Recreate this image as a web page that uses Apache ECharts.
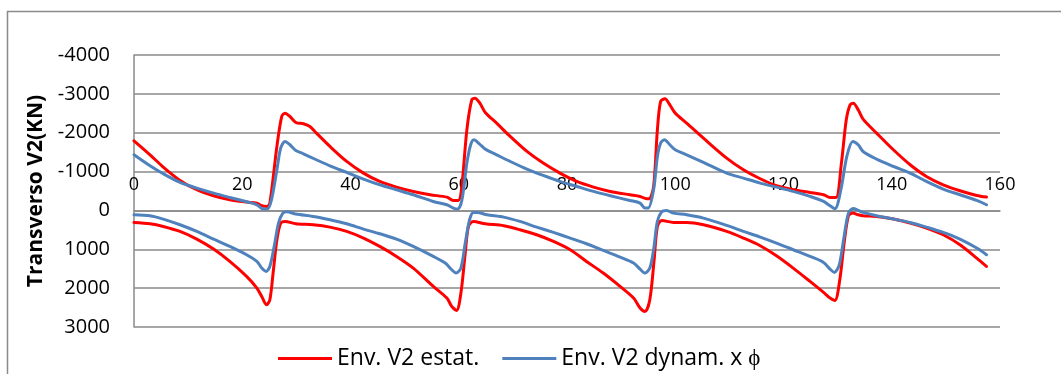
<!DOCTYPE html>
<html>
<head>
<meta charset="utf-8">
<script src="https://cdn.jsdelivr.net/npm/echarts@6/dist/echarts.min.js"></script>
<style>
html,body{margin:0;padding:0;background:#fff;}
#chart{width:1061px;height:374px;}
</style>
</head>
<body>
<div id="chart"></div>
<script>
// ---- data ----
const xTicks = [0, 20, 40, 60, 80, 100, 120, 140, 160];
const yTicks = [-4000, -3000, -2000, -1000, 0, 1000, 2000, 3000];
const seriesNames = ['Env. V2 estat.', 'Env. V2 dynam. x ϕ'];

const redUpperX = [0,2.96,5.4,8.5,11.6,14.7,17.7,20.8,22.7,23.6,24.6,25.1,26.4,27.3,27.9,28.8,29.9,31.3,32.5,33.7,36.2,39.3,42.4,45.4,48.5,51.6,54.7,57.8,59.0,59.9,60.5,61.5,62.4,63.0,63.9,64.9,67.0,69.5,72.6,75.6,78.7,81.8,84.9,88.0,91.6,93.5,94.7,95.2,96.0,96.7,97.3,98.1,99.0,100.0,102.1,105.2,109.5,112.6,115.7,118.7,121.8,124.9,127.4,128.6,129.7,130.7,131.6,132.3,132.9,133.8,134.7,137.2,140.3,143.4,146.4,149.5,152.6,155.7,157.5];
const redUpperY = [-1792,-1432,-1115,-772,-532,-377,-274,-214,-189,-120,-103,-189,-1647,-2418,-2504,-2418,-2264,-2230,-2161,-1990,-1647,-1261,-960,-746,-600,-489,-403,-343,-257,-257,-532,-2075,-2847,-2890,-2761,-2521,-2247,-1904,-1518,-1218,-960,-746,-600,-489,-403,-360,-300,-300,-617,-2075,-2804,-2873,-2718,-2504,-2247,-1861,-1346,-1046,-815,-635,-532,-463,-403,-334,-334,-1218,-2333,-2718,-2761,-2590,-2350,-1990,-1561,-1175,-875,-660,-506,-386,-343];

const blueUpperX = [0,2.96,5.4,8.5,11.6,14.7,17.7,20.8,22.7,23.9,24.6,25.4,26.4,27.1,27.9,28.8,29.9,31.3,33.7,36.2,39.3,42.4,45.4,48.5,51.6,55.3,57.8,59.0,59.8,60.6,61.5,62.2,62.8,63.8,64.9,67.0,69.5,72.6,75.6,78.7,81.8,84.9,88.0,91.6,93.5,94.4,95.0,96.0,96.7,97.3,98.0,99.0,100.0,102.1,105.2,109.5,112.6,115.7,118.7,121.8,124.9,127.4,128.6,129.5,130.6,131.7,132.8,133.8,134.7,137.2,140.3,143.4,146.4,149.5,152.6,155.7,157.5];
const blueUpperY = [-1432,-1149,-943,-720,-575,-446,-334,-223,-146,-34,-34,-274,-1046,-1604,-1775,-1690,-1544,-1458,-1304,-1149,-978,-806,-660,-532,-403,-230,-146,-60,-34,-274,-1218,-1690,-1818,-1715,-1578,-1432,-1261,-1063,-900,-746,-617,-489,-377,-257,-189,-60,-60,-532,-1389,-1732,-1818,-1690,-1561,-1432,-1235,-960,-832,-703,-600,-489,-360,-232,-120,-43,-532,-1389,-1775,-1690,-1518,-1321,-1132,-960,-746,-549,-403,-257,-146];

const redLowerX = [0,2.96,5.4,8.5,11.6,14.7,17.7,20.8,22.7,23.6,24.5,25.1,25.7,26.4,27.1,27.9,29.9,33.1,36.2,39.3,42.4,45.4,48.5,51.6,55.3,57.8,58.7,59.6,60.4,61.2,61.8,62.7,64.9,68.3,71.3,74.4,77.5,80.6,83.6,86.7,89.8,92.3,93.5,94.4,95.3,96.1,96.7,97.5,99.7,102.1,105.2,109.5,112.6,115.7,118.7,121.8,124.9,127.4,128.6,129.5,130.4,131.2,132.0,132.8,133.8,134.7,137.2,140.3,143.4,146.4,149.5,152.6,155.7,157.5];
const redLowerY = [309,343,412,540,738,995,1312,1698,1998,2213,2427,2298,1612,755,326,283,343,369,429,540,712,926,1183,1484,1955,2255,2470,2573,2127,1098,412,283,343,394,497,626,798,1012,1312,1612,1955,2255,2513,2599,2298,1269,412,257,309,309,369,540,712,909,1166,1484,1827,2110,2255,2315,1784,840,137,69,111,137,154,223,326,455,626,883,1226,1441];

const blueLowerX = [0,2.96,5.4,8.5,11.6,14.7,17.7,20.8,22.7,23.6,24.4,25.1,25.9,26.7,27.5,28.2,29.9,33.1,36.2,39.3,42.4,45.4,48.5,51.6,55.3,57.5,58.7,59.5,60.4,61.2,62.0,62.7,63.4,65.2,68.3,71.3,74.4,77.5,80.6,83.6,86.7,89.8,92.3,93.5,94.4,95.3,96.0,96.7,97.5,98.4,99.7,102.1,105.2,109.5,112.6,115.7,118.7,121.8,124.9,127.4,128.6,129.4,130.3,131.1,132.0,132.9,133.8,134.7,137.2,140.3,143.4,146.4,149.5,152.6,155.7,157.5];
const blueLowerY = [111,137,223,369,540,738,926,1141,1312,1484,1569,1441,926,326,69,34,94,154,240,343,480,600,738,926,1183,1355,1527,1612,1484,840,240,51,51,111,172,283,429,566,712,858,1029,1201,1355,1509,1612,1484,1012,283,34,0,69,111,197,386,540,686,840,1012,1183,1338,1509,1595,1400,755,69,-51,0,51,137,223,309,429,566,738,969,1141];

// ---- chart ----
const zip = (xs, ys) => xs.map((x, i) => [x, ys[i]]);
const FONT = 'Open Sans';
const RED = '#ff0000';
const BLUE = '#4f81bd';
const GRID = '#8a8a8a';
const GRID_TOP = 55, GRID_BOTTOM = 47, H = 374;
const yMin = yTicks[0], yMax = yTicks[yTicks.length - 1];
const plotH = H - GRID_TOP - GRID_BOTTOM;
// x axis sits on the zero line of the (inverted) y axis
const xAxisOffset = -plotH * (0 - yMin) / (yMax - yMin);

function lineSeries(name, xs, ys, color) {
  return {
    name: name,
    type: 'line',
    data: zip(xs, ys),
    showSymbol: false,
    smooth: 0.3,
    lineStyle: { color: color, width: 3, join: 'round', cap: 'round' },
    itemStyle: { color: color },
    emphasis: { disabled: true },
    z: color === RED ? 3 : 4
  };
}

const chart = echarts.init(document.getElementById('chart'), null, { renderer: 'canvas' });
chart.setOption({
  animation: false,
  backgroundColor: '#fff',
  textStyle: { fontFamily: FONT },
  graphic: [{
    type: 'rect',
    shape: { x: 7.5, y: 11.5, width: 1200, height: 500 },
    style: { fill: 'none', stroke: GRID, lineWidth: 1.5 },
    silent: true,
    z: -10
  }],
  grid: { left: 134, right: 61, top: GRID_TOP, bottom: GRID_BOTTOM, containLabel: false },
  legend: {
    left: 273,
    top: 342,
    icon: 'rect',
    itemWidth: 54,
    itemHeight: 3,
    itemGap: 23,
    data: seriesNames,
    textStyle: { fontFamily: FONT, fontSize: 23, color: '#000' }
  },
  xAxis: {
    type: 'value',
    min: xTicks[0],
    max: xTicks[xTicks.length - 1],
    interval: 20,
    position: 'top',
    offset: xAxisOffset,
    axisLine: { show: true, onZero: false, lineStyle: { color: GRID, width: 1.5 } },
    axisTick: { show: false },
    splitLine: { show: false },
    axisLabel: { fontFamily: FONT, fontSize: 18, color: '#000', margin: 17, formatter: v => String(v) }
  },
  yAxis: {
    type: 'value',
    inverse: true,
    min: yMin,
    max: yMax,
    interval: 1000,
    name: 'Transverso V2(KN)',
    nameLocation: 'middle',
    nameGap: 86,
    nameTextStyle: { fontFamily: FONT, fontSize: 21, fontWeight: 'bold', color: '#000' },
    axisLine: { show: true, onZero: false, lineStyle: { color: GRID, width: 1.5 } },
    axisTick: { show: false },
    splitLine: { show: true, lineStyle: { color: GRID, width: 1.5 } },
    axisLabel: { fontFamily: FONT, fontSize: 20, color: '#000', margin: 24, formatter: v => String(v) }
  },
  series: [
    lineSeries(seriesNames[0], redUpperX, redUpperY, RED),
    lineSeries(seriesNames[0], redLowerX, redLowerY, RED),
    lineSeries(seriesNames[1], blueUpperX, blueUpperY, BLUE),
    lineSeries(seriesNames[1], blueLowerX, blueLowerY, BLUE)
  ]
});
</script>
</body>
</html>
